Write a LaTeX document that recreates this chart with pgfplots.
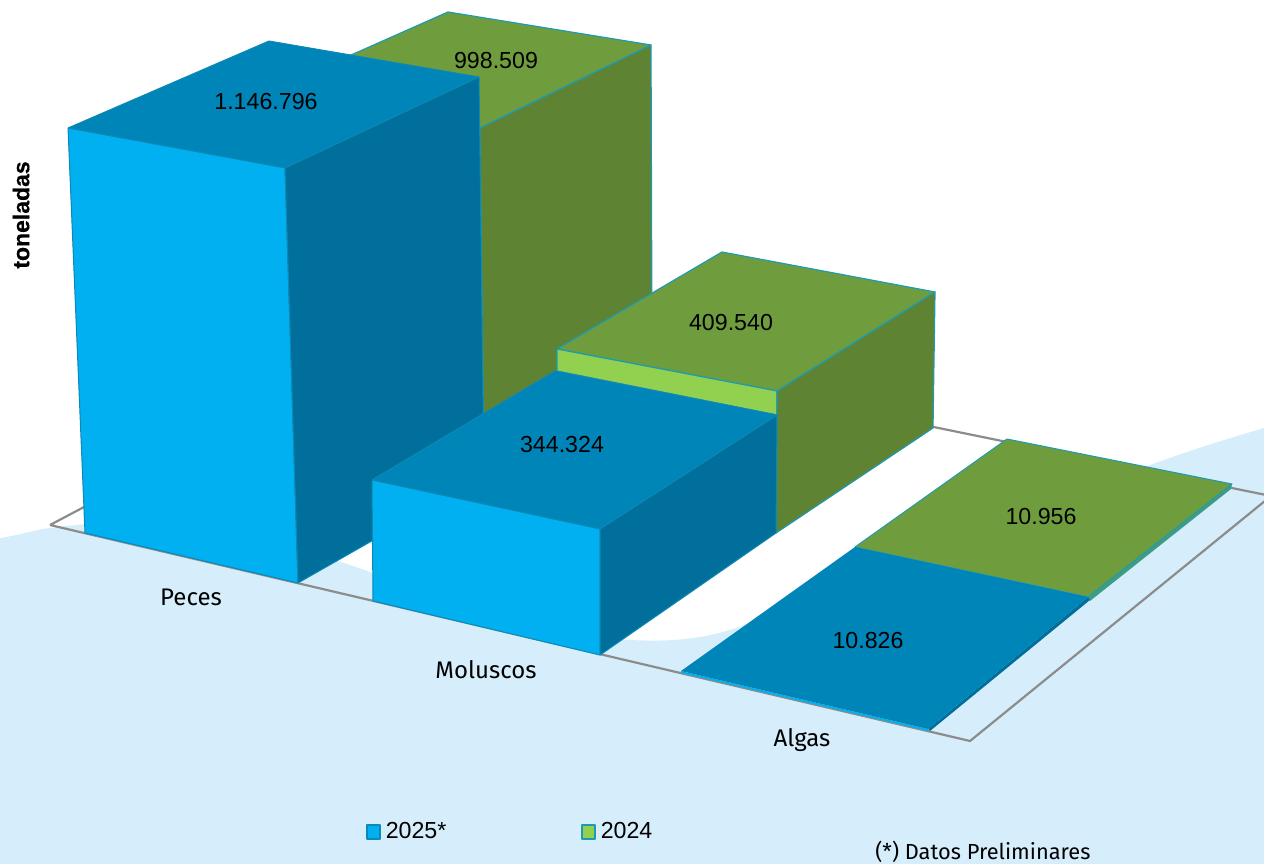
\documentclass[border=0pt]{standalone}
\usepackage{fontspec}
\setmainfont{Liberation Sans}[BoldFeatures={FakeBold=0.4}]
\newfontfamily\catfont{Fira Sans}
\usepackage{pgfplots}
\usepackage{pgfplotstable}
\pgfplotsset{compat=1.18}
\definecolor{bgblue}{HTML}{D6EEFB}
\definecolor{floorline}{HTML}{8C8C8C}
\definecolor{bluefront}{HTML}{00B0F0}
\definecolor{bluetop}{HTML}{0085B8}
\definecolor{blueside}{HTML}{006F9C}
\definecolor{blueedge}{HTML}{0E88B4}
\definecolor{greenfront}{HTML}{92D050}
\definecolor{greentop}{HTML}{6F9D3E}
\definecolor{greenside}{HTML}{5E8333}
\definecolor{greenedge}{HTML}{1F9BB0}
\pgfplotstableread{
x y lab
266 102 1.146.796
496 61 998.509
562 445 344.324
731 323 409.540
868 641 10.826
1041 517 10.956
}\vals
\pgfplotstableread{
x y lab
191 597 Peces
486 670 Moluscos
802 740 Algas
}\cats
\begin{document}
\begin{tikzpicture}
\begin{axis}[
  scale only axis, width=632bp, height=432bp,
  xmin=0, xmax=1264, ymin=0, ymax=864, y dir=reverse,
  hide axis, clip=true,
  legend style={at={(axis cs:360,832)},anchor=west,draw=none,fill=none,
    legend columns=2,font=\fontsize{11.6bp}{13bp}\selectfont,
    /tikz/every even column/.style={column sep=65.5bp},
    /tikz/column 1/.style={column sep=.5bp},
    /tikz/column 3/.style={column sep=.5bp}},
  legend image code/.code={\draw[#1,line width=.7bp] (0bp,-3.5bp) rectangle (6.5bp,3.5bp);},
  every axis plot/.append style={forget plot, line join=round},
]
% page area, keeps the bounding box at full size
\addplot[fill=white,draw=none] coordinates {(0,0)(1264,0)(1264,864)(0,864)(0,0)};
% background swoosh
\addplot[fill=bgblue,draw=none,smooth] coordinates {
  (-200,1100)(-150,560)(0,538)(50,528)(130,522)(230,532)(350,565)(500,620)(630,640)(730,630)
  (900,560)(1150,465)(1264,428)(1400,390)(1500,1100)};
% floor
\addplot[draw=floorline,line width=1.1bp] coordinates {
  (50,525)(970,741)(1271,496)(430,324)(50,525)};
% Peces 2024
\addplot[fill=greentop,draw=greenedge,line width=.6bp] coordinates {(448,12)(651,45)(480,128)(270,91)(448,12)};
\addplot[fill=greenside,draw=greenedge,line width=.6bp] coordinates {(480,128)(651,45)(652,350)(484,470)(480,128)};
% Peces 2025
\addplot[fill=bluetop,draw=blueedge,line width=.5bp] coordinates {(68,128)(269,41)(479,77)(285,168)(68,128)};
\addplot[fill=bluefront,draw=blueedge,line width=.5bp] coordinates {(68,128)(285,168)(298,583)(85,533)(68,128)};
\addplot[fill=blueside,draw=blueedge,line width=.5bp] coordinates {(285,168)(479,77)(484,477)(298,583)(285,168)};
% Moluscos 2024
\addplot[fill=greentop,draw=greenedge,line width=.6bp] coordinates {(557,349)(722,252)(935,292)(777,391)(557,349)};
\addplot[fill=greenfront,draw=greenedge,line width=.6bp] coordinates {(557,349)(777,391)(777,415)(557,371)(557,349)};
\addplot[fill=greenside,draw=greenedge,line width=.6bp] coordinates {(777,391)(935,292)(933,428)(776,533)(777,391)};
% Moluscos 2025
\addplot[fill=bluetop,draw=blueedge,line width=.5bp] coordinates {(372,480)(555,371)(777,415)(600,529)(372,480)};
\addplot[fill=bluefront,draw=blueedge,line width=.5bp] coordinates {(372,480)(600,529)(600,655)(373,601)(372,480)};
\addplot[fill=blueside,draw=blueedge,line width=.5bp] coordinates {(600,529)(777,415)(776,533)(600,655)(600,529)};
% Algas 2024
\addplot[fill=greenedge!60!greentop,draw=none] coordinates {(1088,597)(1232,484)(1231,489)(1090,601)(1088,597)};
\addplot[fill=greentop,draw=greenedge,line width=.5bp] coordinates {(855,547)(1007,439)(1232,484)(1088,597)(855,547)};
% Algas 2025
\addplot[fill=bluefront,draw=none] coordinates {(681,671)(928,729)(928,731)(681,673)(681,671)};
\addplot[fill=blueside,draw=none] coordinates {(928,729)(1088,597)(1090,600)(930,731)(928,729)};
\addplot[fill=bluetop,draw=none] coordinates {(681,671)(855,547)(1088,597)(928,729)(681,671)};
% value and category labels
\addplot[draw=none,nodes near coords,point meta=explicit symbolic,
  nodes near coords style={anchor=center,inner sep=0pt,text=black,
    font=\fontsize{11.6bp}{13bp}\selectfont}]
  table[x=x,y=y,meta=lab] {\vals};
\addplot[draw=none,nodes near coords,point meta=explicit symbolic,
  nodes near coords style={anchor=center,inner sep=0pt,text=black,
    font=\catfont\fontsize{12bp}{13bp}\selectfont}]
  table[x=x,y=y,meta=lab] {\cats};
\node[rotate=90,font=\bfseries\fontsize{11.5bp}{13bp}\selectfont,inner sep=0pt] at (axis cs:21,215) {toneladas};
\node[anchor=west,inner sep=0pt,font=\catfont\fontsize{10.9bp}{13bp}\selectfont] at (axis cs:875,852) {(*) Datos Preliminares};
% legend
\addlegendimage{fill=bluefront,draw=blueedge}
\addlegendentry{2025*}
\addlegendimage{fill=greenfront,draw=greenedge}
\addlegendentry{2024}
\end{axis}
\end{tikzpicture}
\end{document}
